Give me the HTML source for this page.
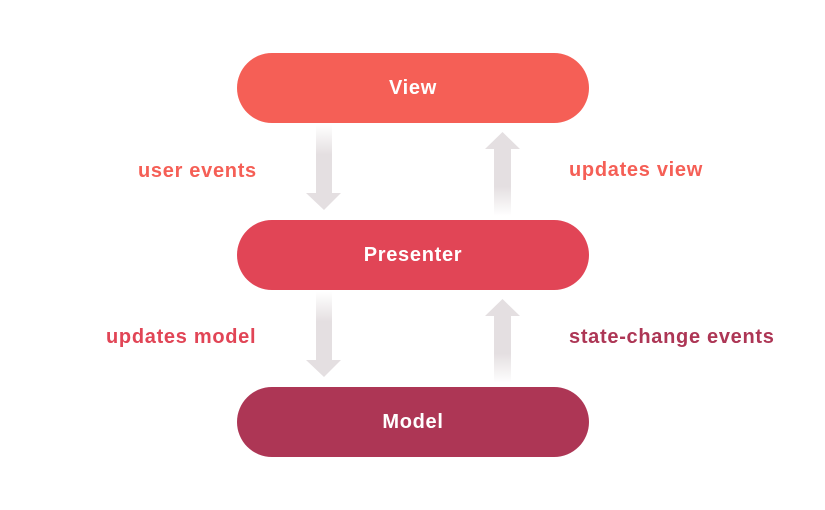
<!DOCTYPE html>
<html><head><style>
body{margin:0;width:825px;height:510px;background:#fff;position:relative;overflow:hidden;font-family:"Liberation Sans",sans-serif;font-weight:bold}
.p{position:absolute;left:237px;width:352px;height:70px;border-radius:35px;color:#fff;font-size:20px;line-height:70px;text-align:center;letter-spacing:0.7px}
.l{position:absolute;font-size:20px;line-height:24px;white-space:nowrap;letter-spacing:0.7px}
</style></head><body>
<div class="p" style="top:53px;background:#f55f56">View</div>
<div class="p" style="top:220px;background:#e14556">Presenter</div>
<div class="p" style="top:387px;background:#ad3655">Model</div>
<div class="l" style="left:138px;top:159px;color:#f55f56">user events</div>
<div class="l" style="left:569px;top:158px;color:#f55f56">updates view</div>
<div class="l" style="left:106px;top:325px;color:#e14556">updates model</div>
<div class="l" style="left:569px;top:325px;color:#ad3655">state-change events</div>
<svg width="825" height="510" style="position:absolute;left:0;top:0">
<defs>
<linearGradient id="d" x1="0" y1="0" x2="0" y2="1"><stop offset="0" stop-color="#e4dfe1" stop-opacity="0"/><stop offset="0.35" stop-color="#e4dfe1"/><stop offset="1" stop-color="#e4dfe1"/></linearGradient>
<linearGradient id="u" x1="0" y1="1" x2="0" y2="0"><stop offset="0" stop-color="#e4dfe1" stop-opacity="0"/><stop offset="0.35" stop-color="#e4dfe1"/><stop offset="1" stop-color="#e4dfe1"/></linearGradient>
</defs>
<g fill="url(#d)"><path d="M316 125H332V193H341L324 210L306 193H316Z"/><path d="M316 292H332V360H341L324 377L306 360H316Z"/></g>
<g fill="url(#u)"><path d="M494 216H511V149H520L502.5 132L485 149H494Z"/><path d="M494 383H511V316H520L502.5 299L485 316H494Z"/></g>
</svg>
</body></html>
